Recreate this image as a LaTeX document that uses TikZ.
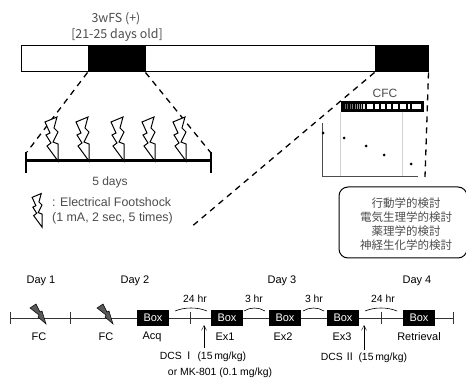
\documentclass[tikz,border=0pt]{standalone}
\usepackage{fontspec}
\setmainfont{Liberation Sans}
\newfontfamily\jpfont{Noto Sans CJK JP}
\usetikzlibrary{arrows.meta,positioning,calc}
\definecolor{inkgray}{gray}{0.3}
\tikzset{
  lbl/.style={font=\fontsize{11}{12}\selectfont,inner sep=0pt},
  smlbl/.style={font=\fontsize{10.4}{12}\selectfont,inner sep=0pt},
  toplbl/.style={font=\jpfont\fontsize{12.4}{14}\selectfont,text=inkgray,inner sep=0pt},
  leglbl/.style={font=\fontsize{12.4}{14}\selectfont,text=inkgray,inner sep=0pt,anchor=west},
  blk/.style={draw,fill=black,inner sep=0pt,minimum width=#1,minimum height=26pt,line width=1pt},
  boxn/.style={fill=black,text=white,minimum width=32pt,minimum height=16pt,inner sep=0pt,font=\fontsize{11}{12}\selectfont},
  dsh/.style={dashed,dash pattern=on 6pt off 5pt,line width=1.3pt},
  tickm/.style={line width=0.8pt},
  spanarc/.style={line width=0.6pt},
  arr/.style={-{Straight Barb[length=5pt,width=5pt]},line width=0.4pt},
  dot/.style={circle,fill=black,inner sep=0pt,minimum size=3pt},
  pics/bolt/.style={code={
    \draw[line width=1pt,fill=white] (-13,-39)--(-1,-44)--(-4,-33)--(0,-29)--(-5,-19)--(0,-17)--(0,0)--(-11,-15)--(-7,-18)--(-12,-26)--(-8,-28)--cycle;
  }},
  pics/fcbolt/.style={code={
    \draw[line width=0.5pt,fill=black!65] (-16,-16)--(-10,-20)--(-6,-12)--(-4,-13)--(0,0)--(-8,-7)--(-7,-9)--cycle;
  }},
}
\begin{document}
\begin{tikzpicture}[x=1pt,y=-1pt]
 \useasboundingbox (0,0) rectangle (466,379);
 % top bar
 \node[draw,line width=1pt,minimum width=407pt,minimum height=26pt,inner sep=0pt] (bar) at (224.5,59){};
 \node[blk=57pt] (fs) at (116.5,59){};
 \node[blk=53pt] (cfc) at (401.5,59){};
 \node[toplbl] (fslbl) at (116,19){3wFS (+)};
 \node[toplbl] at (117,35){[21-25 days old]};
 % shock line
 \coordinate (la) at (26,161); \coordinate (lb) at (211,161);
 \draw[line width=3pt] (la)--(lb);
 \draw[line width=2.5pt] (26,152)--(26,173) (211,152)--(211,173);
 \coordinate (dl) at (27,152); \coordinate (dr) at (211,153); \coordinate (dm) at (190,228); \coordinate (dc) at (425,177);
 \draw[dsh] (fs.south west)--(dl); \draw[dsh] (fs.south east)--(dr);
 \draw[dsh] (cfc.south west)--(dm); \draw[dsh] (cfc.south east)--(dc);
 \foreach \x in {58,89,124,155,186}{\pic at (\x,161){bolt};}
 \node[lbl,font=\fontsize{12}{14}\selectfont,text=inkgray] at (110,182){5 days};
 \pic[scale=0.76] at (42,227){bolt};
 \node[leglbl] at (52,202){: Electrical Footshock};
 \node[leglbl] at (52,218){(1 mA, 2 sec, 5 times)};
 % CFC strip and plot
 \node[lbl,font=\fontsize{12}{14}\selectfont,text=inkgray] at (385,93){CFC};
 \node[fill=black,minimum width=83pt,minimum height=11pt,inner sep=0pt] (strip) at (382.5,107){};
 \foreach \a/\b/\c in {345/346/40,347/348/40,350/351/40,352/353/50,355/356/50,357/358/60,359/360/60,361/362/70,363/365/90,367/373/100,375/379/100,381/385/100,387/391/100,393/398/100,400/406/100,408/410/100,412/421/100}{
  \fill[white!\c!black] (\a,104.5) rectangle (\b,109.5);}
 \coordinate (yt) at (322,123); \coordinate (org) at (322,176); \coordinate (xe) at (418,176);
 \draw[line width=0.8pt,black!70] (yt)--(org)--(xe);
 \draw[black!18,line width=0.5pt] (340,112)--(340,176) (402,112)--(402,176);
 \foreach \x/\y in {323/133,344/138,366/146,384/155,411/164}{\node[dot] at (\x,\y){};}
 % methods box
 \node[draw,line width=1pt,rounded corners=9pt,minimum width=128pt,minimum height=71pt,inner sep=0pt] (mbox) at (403,222.5){};
 \node[font=\jpfont\fontsize{11.5}{14}\selectfont,align=center,text=inkgray,inner sep=0pt] at (406,224){行動学的検討\\電気生理学的検討\\薬理学的検討\\神経生化学的検討};
 % timeline
 \coordinate (ts) at (10,318); \coordinate (te) at (453,318);
 \draw[line width=0.8pt,black!80] (ts)--(te);
 \foreach \x in {10,70,190,381,453}{\draw[tickm,black!80] (\x,312)--(\x,324);}
 \pic at (46,324){fcbolt}; \pic at (113,324){fcbolt};
 \foreach \n/\x/\t/\tx in {acq/153/Acq/152,exa/227/Ex1/225,exb/285/Ex2/283,exc/343/Ex3/342,ret/419/Retrieval/419}{
  \node[boxn] (\n) at (\x,318){Box};
  \node[lbl] at (\tx,337){\t};}
 \node[lbl] at (39,337){FC}; \node[lbl] at (106,337){FC};
 \foreach \x/\t in {41/Day 1,135/Day 2,282/Day 3,417/Day 4}{\node[lbl] at (\x,281){\t};}
 \foreach \a/\b/\x/\t in {175/207/195/24 hr,244/265/254/3 hr,303/324/314/3 hr,365/397/383/24 hr}{
  \draw[spanarc] (\a,311) .. controls ({\a+(\b-\a)*0.3},307) and ({\a+(\b-\a)*0.7},307) .. (\b,311);
  \node[smlbl] at (\x,299){\t};}
 % drug arrows
 \node[smlbl] (dcsa) at (203,357){DCS\,{\jpfont Ⅰ}\,\,(15\,mg/kg)};
 \node[smlbl] (mk) at (220,373){or MK-801 (0.1 mg/kg)};
 \node[smlbl] (dcsb) at (364,358){DCS\,{\jpfont Ⅱ}\,\,(15\,mg/kg)};
 \coordinate (pa) at (204,325); \coordinate (pb) at (364,325);
 \coordinate (qa) at (204,348); \coordinate (qb) at (364,350);
 \draw[arr] (qa)--(pa); \draw[arr] (qb)--(pb);
\end{tikzpicture}
\end{document}
